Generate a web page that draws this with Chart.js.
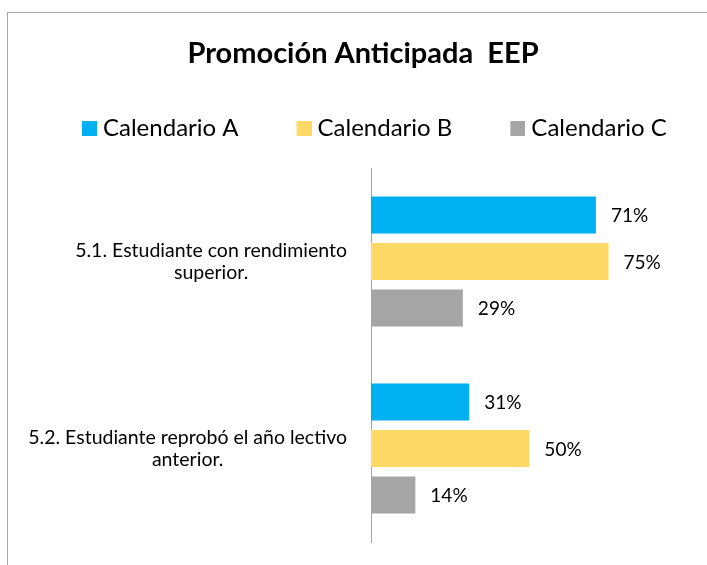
<!DOCTYPE html>
<html><head><meta charset="utf-8">
<script src="https://cdn.jsdelivr.net/npm/chart.js@4"></script>
<style>
html,body{margin:0;padding:0;background:#fff;overflow:hidden;width:707px;height:565px;}
#frame{position:absolute;left:7px;top:12px;width:716px;height:560px;border-left:1px solid #a6a6a6;border-top:1px solid #a6a6a6;}
canvas{display:block;}
</style></head><body>
<div id="frame"><canvas id="c" width="716" height="560"></canvas></div>
<script>
const categories = [["5.1. Estudiante con rendimiento", "superior."], ["5.2. Estudiante reprobó el año lectivo", "anterior."]];
const seriesNames = ["Calendario A", "Calendario B", "Calendario C"];
const calendarioA = [71, 31];
const calendarioB = [75, 50];
const calendarioC = [29, 14];
const titleText = "Promoción Anticipada  EEP";

const colors = ["#00B0F0", "#FFD966", "#A5A5A5"];
const FONT = "Lato";
const LEG_W = 47;   // legend slot width before the text gap
const SQ = 15;      // legend square size

// legend marker image: square sits at the right of the slot, 6px before the text
function marker(color) {
  const c = document.createElement('canvas');
  c.width = LEG_W + 12; c.height = SQ;
  const g = c.getContext('2d');
  g.fillStyle = color;
  g.fillRect(c.width - SQ, 0, SQ, SQ);
  return c;
}

const labelPlugin = {
  id: 'customLabels',
  afterDatasetsDraw(chart) {
    const ctx = chart.ctx;
    ctx.save();
    ctx.fillStyle = '#000';
    ctx.textBaseline = 'middle';
    ctx.font = `19px ${FONT}`;
    ctx.textAlign = 'left';
    chart.data.datasets.forEach((ds, i) => {
      chart.getDatasetMeta(i).data.forEach((bar, j) => {
        ctx.fillText(ds.data[j] + '%', bar.x + 15, bar.y + 1);
      });
    });
    const ys = chart.scales.y;
    ctx.font = `19.5px ${FONT}`;
    ctx.textAlign = 'center';
    categories.forEach((lines, j) => {
      const cy = ys.getPixelForValue(j);
      const w = Math.max(...lines.map(l => ctx.measureText(l).width));
      const cx = chart.chartArea.left - 24 - w / 2;
      lines.forEach((l, k) => ctx.fillText(l, cx, cy + (k - (lines.length - 1) / 2) * 22));
    });
    ctx.restore();
  }
};

const chart = new Chart(document.getElementById('c'), {
  type: 'bar',
  data: {
    labels: categories,
    datasets: [
      { label: seriesNames[0], data: calendarioA, backgroundColor: colors[0], borderWidth: 0, pointStyle: marker(colors[0]) },
      { label: seriesNames[1], data: calendarioB, backgroundColor: colors[1], borderWidth: 0, pointStyle: marker(colors[1]) },
      { label: seriesNames[2], data: calendarioC, backgroundColor: colors[2], borderWidth: 0, pointStyle: marker(colors[2]) }
    ]
  },
  options: {
    responsive: false,
    animation: false,
    indexAxis: 'y',
    datasets: { bar: { barPercentage: 0.8, categoryPercentage: 0.746 } },
    layout: { padding: { top: 0, right: 22, bottom: 31, left: 16 } },
    scales: {
      x: {
        position: 'top', min: 0, max: 104.5,
        grid: { display: false }, border: { display: false }, ticks: { display: false },
        afterFit(s) { s.height = 18; }
      },
      y: {
        grid: { display: false },
        border: { display: true, color: '#a6a6a6', width: 1 },
        ticks: { display: false },
        afterFit(s) { s.width = 347; }
      }
    },
    plugins: {
      title: { display: true, text: titleText, color: '#000',
        font: { family: FONT, size: 29, weight: 'bold', lineHeight: 1 }, padding: { top: 26.5, bottom: 27.5 } },
      legend: { align: 'start', labels: { usePointStyle: true, pointStyleWidth: LEG_W, boxWidth: SQ, boxHeight: SQ,
        color: '#000', font: { family: FONT, size: 24 }, padding: 20 } },
      tooltip: { enabled: false }
    }
  },
  plugins: [labelPlugin]
});
</script>
</body></html>
